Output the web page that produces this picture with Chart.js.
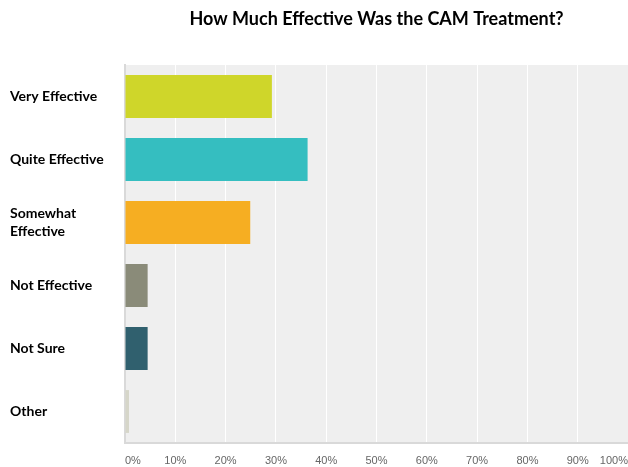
<!DOCTYPE html>
<html>
<head>
<meta charset="utf-8">
<script src="https://cdn.jsdelivr.net/npm/chart.js@4/dist/chart.umd.min.js"></script>
<style>
  html, body { margin: 0; padding: 0; background: #ffffff; }
  #wrap { width: 628px; height: 467px; position: relative; }
</style>
</head>
<body>
<div id="wrap"><canvas id="c" width="628" height="467"></canvas></div>
<script>
const chartTitle = "How Much Effective Was the CAM Treatment?";
const categories = ["Very Effective", "Quite Effective", ["Somewhat", "Effective"], "Not Effective", "Not Sure", "Other"];
const percentValues = [29.2, 36.3, 24.9, 4.5, 4.5, 0.8];
const barColors = ["#cfd62a", "#35bec0", "#f6ae22", "#8a8b79", "#30606e", "#d6d6c9"];
const xTickValues = [0, 10, 20, 30, 40, 50, 60, 70, 80, 90, 100];

const plotBackground = {
  id: 'plotBackground',
  beforeDraw(chart) {
    const a = chart.chartArea, ctx = chart.ctx;
    ctx.save();
    ctx.fillStyle = '#efefef';
    ctx.fillRect(a.left, a.top, a.right - a.left, a.bottom - a.top);
    ctx.restore();
  }
};

new Chart(document.getElementById('c'), {
  type: 'bar',
  data: {
    labels: categories,
    datasets: [{
      data: percentValues,
      backgroundColor: barColors,
      borderWidth: 0,
      barPercentage: 0.68,
      categoryPercentage: 1.0
    }]
  },
  options: {
    indexAxis: 'y',
    responsive: false,
    animation: false,
    events: [],
    layout: { padding: { left: 10, right: 0, top: 0, bottom: 0 } },
    plugins: {
      legend: { display: false },
      tooltip: { enabled: false },
      title: {
        display: true,
        text: chartTitle,
        fullSize: false,
        color: '#000000',
        font: { family: 'Lato', size: 18, weight: 'bold' },
        padding: { top: 8, bottom: 35.4 }
      }
    },
    scales: {
      x: {
        min: 0,
        max: 100,
        afterBuildTicks(scale) { scale.ticks = xTickValues.map(v => ({ value: v })); },
        afterFit(scale) { scale.height = 24; scale.paddingLeft = 0; scale.paddingRight = 0; },
        grid: { color: '#ffffff', lineWidth: 1, drawTicks: false },
        border: { display: true, color: '#d9d9d9', width: 2 },
        ticks: {
          align: 'inner',
          padding: 11,
          color: '#666666',
          font: { family: 'Liberation Sans', size: 11 },
          callback: v => v + '%'
        }
      },
      y: {
        afterFit(scale) { scale.width = 115; },
        grid: { display: false, drawTicks: false },
        border: { display: true, color: '#d9d9d9', width: 2 },
        ticks: {
          crossAlign: 'far',
          color: '#000000',
          font: { family: 'Lato', size: 14, weight: 'bold', lineHeight: 1.35 }
        }
      }
    }
  },
  plugins: [plotBackground]
});
</script>
</body>
</html>
